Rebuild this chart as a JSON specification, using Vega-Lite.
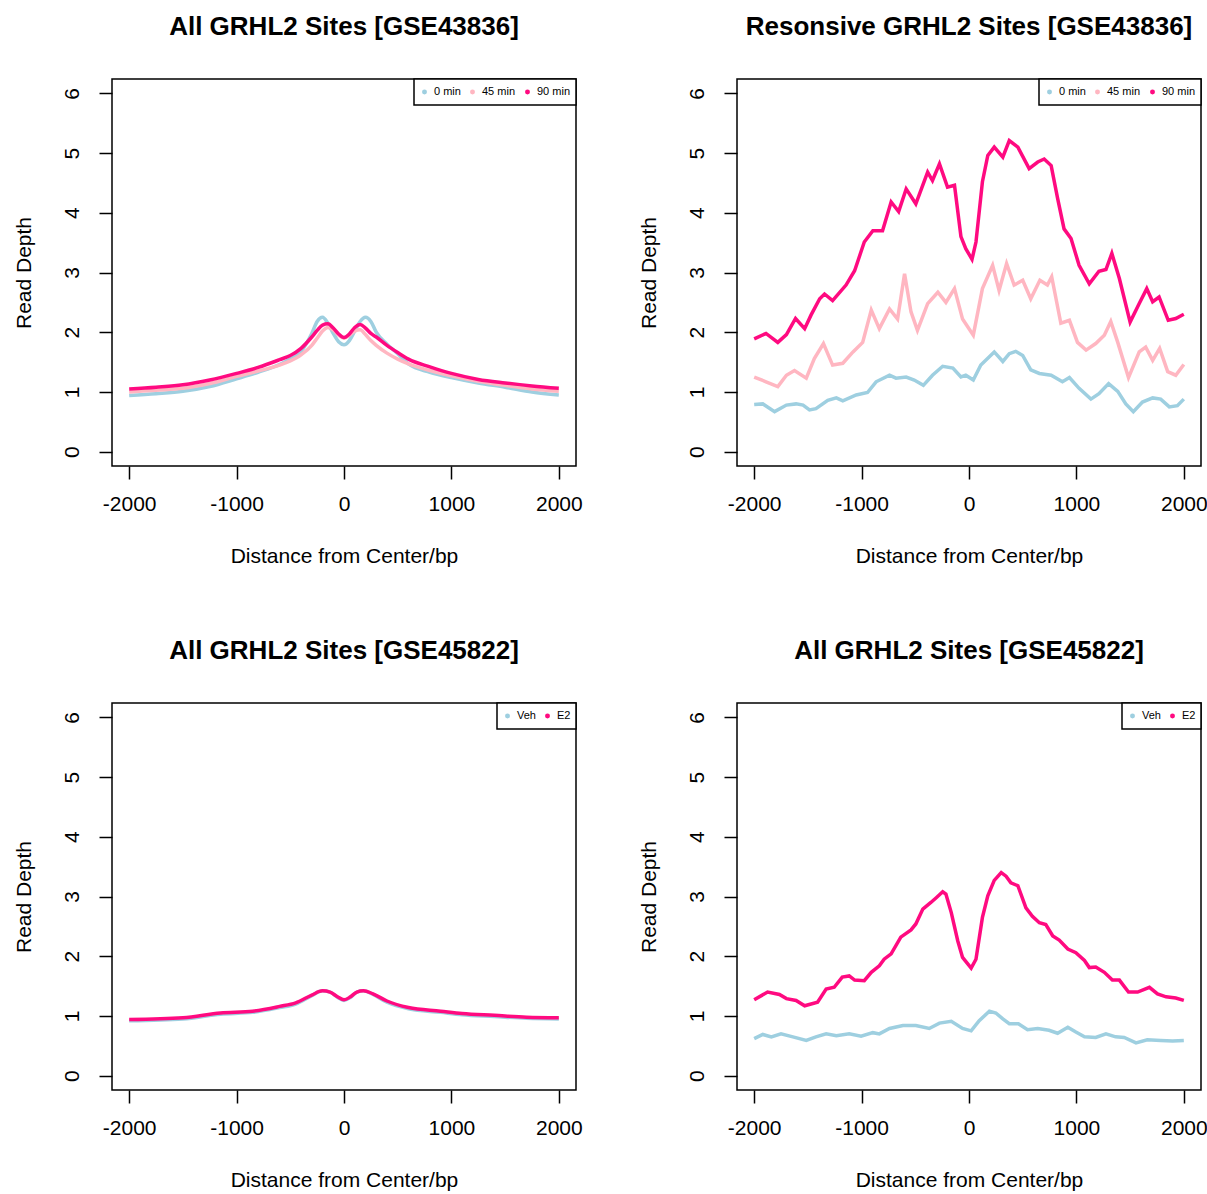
{
"$schema": "https://vega.github.io/schema/vega-lite/v6.json",
"background": "white",
"padding": {"left": 12, "top": 13, "right": 5, "bottom": 5},
"config": {
 "view": {"stroke": "black", "strokeWidth": 1.5},
 "axis": {"grid": false, "domain": false, "tickColor": "black", "tickSize": 13, "tickWidth": 1.5, "labelFont": "Liberation Sans", "labelFontSize": 21, "labelColor": "black", "titleFont": "Liberation Sans", "titleFontSize": 21, "titleFontWeight": "normal", "titleColor": "black", "labelOverlap": false},
 "axisX": {"labelPadding": 14, "titlePadding": 31, "labelAngle": 0, "labelExpr": "'' + datum.value"},
 "axisY": {"labelAngle": 270, "labelAlign": "center", "labelBaseline": "bottom", "labelPadding": 17, "titlePadding": 27},
 "legend": {"orient": "top-right", "offset": 0, "direction": "horizontal", "strokeColor": "black", "strokeWidth": 1.5, "fillColor": "white", "padding": 5, "clipHeight": 16, "symbolType": "circle", "symbolSize": 6, "symbolStrokeWidth": 2.5, "labelFontSize": 11, "labelFont": "Liberation Sans", "labelColor": "black", "columnPadding": 6, "labelOffset": 4, "cornerRadius": 0},
 "title": {"font": "Liberation Sans", "fontSize": 26, "fontWeight": "bold", "color": "black", "offset": 38, "frame": "group", "anchor": "middle"}
},
"datasets": {
 "p1": [
  {"x":-2000,"s":"0 min","y":0.94},{"x":-1750,"s":"0 min","y":0.97},{"x":-1500,"s":"0 min","y":1.01},{"x":-1250,"s":"0 min","y":1.09},{"x":-1000,"s":"0 min","y":1.22},{"x":-800,"s":"0 min","y":1.33},{"x":-600,"s":"0 min","y":1.46},{"x":-500,"s":"0 min","y":1.55},{"x":-400,"s":"0 min","y":1.68},{"x":-300,"s":"0 min","y":1.98},{"x":-250,"s":"0 min","y":2.18},{"x":-200,"s":"0 min","y":2.25},{"x":-150,"s":"0 min","y":2.15},{"x":-100,"s":"0 min","y":1.98},{"x":-50,"s":"0 min","y":1.84},{"x":0,"s":"0 min","y":1.79},{"x":50,"s":"0 min","y":1.86},{"x":100,"s":"0 min","y":2.02},{"x":150,"s":"0 min","y":2.18},{"x":200,"s":"0 min","y":2.25},{"x":250,"s":"0 min","y":2.18},{"x":300,"s":"0 min","y":2.0},{"x":400,"s":"0 min","y":1.8},{"x":500,"s":"0 min","y":1.64},{"x":600,"s":"0 min","y":1.47},{"x":800,"s":"0 min","y":1.33},{"x":1000,"s":"0 min","y":1.24},{"x":1250,"s":"0 min","y":1.15},{"x":1500,"s":"0 min","y":1.08},{"x":1750,"s":"0 min","y":1.0},{"x":2000,"s":"0 min","y":0.95},
  {"x":-2000,"s":"45 min","y":1.0},{"x":-1750,"s":"45 min","y":1.03},{"x":-1500,"s":"45 min","y":1.06},{"x":-1250,"s":"45 min","y":1.14},{"x":-1000,"s":"45 min","y":1.26},{"x":-800,"s":"45 min","y":1.35},{"x":-600,"s":"45 min","y":1.45},{"x":-500,"s":"45 min","y":1.52},{"x":-400,"s":"45 min","y":1.62},{"x":-300,"s":"45 min","y":1.78},{"x":-250,"s":"45 min","y":1.9},{"x":-200,"s":"45 min","y":2.02},{"x":-150,"s":"45 min","y":2.08},{"x":-100,"s":"45 min","y":2.04},{"x":-50,"s":"45 min","y":1.95},{"x":0,"s":"45 min","y":1.9},{"x":50,"s":"45 min","y":1.95},{"x":100,"s":"45 min","y":2.02},{"x":150,"s":"45 min","y":2.04},{"x":200,"s":"45 min","y":1.96},{"x":250,"s":"45 min","y":1.86},{"x":300,"s":"45 min","y":1.78},{"x":400,"s":"45 min","y":1.65},{"x":500,"s":"45 min","y":1.55},{"x":600,"s":"45 min","y":1.47},{"x":800,"s":"45 min","y":1.36},{"x":1000,"s":"45 min","y":1.27},{"x":1250,"s":"45 min","y":1.18},{"x":1500,"s":"45 min","y":1.11},{"x":1750,"s":"45 min","y":1.05},{"x":2000,"s":"45 min","y":1.01},
  {"x":-2000,"s":"90 min","y":1.05},{"x":-1750,"s":"90 min","y":1.08},{"x":-1500,"s":"90 min","y":1.12},{"x":-1250,"s":"90 min","y":1.2},{"x":-1000,"s":"90 min","y":1.31},{"x":-800,"s":"90 min","y":1.41},{"x":-600,"s":"90 min","y":1.54},{"x":-500,"s":"90 min","y":1.61},{"x":-400,"s":"90 min","y":1.73},{"x":-300,"s":"90 min","y":1.92},{"x":-250,"s":"90 min","y":2.03},{"x":-200,"s":"90 min","y":2.12},{"x":-150,"s":"90 min","y":2.14},{"x":-100,"s":"90 min","y":2.07},{"x":-50,"s":"90 min","y":1.97},{"x":0,"s":"90 min","y":1.91},{"x":50,"s":"90 min","y":1.97},{"x":100,"s":"90 min","y":2.08},{"x":150,"s":"90 min","y":2.13},{"x":200,"s":"90 min","y":2.07},{"x":250,"s":"90 min","y":1.98},{"x":300,"s":"90 min","y":1.92},{"x":400,"s":"90 min","y":1.78},{"x":500,"s":"90 min","y":1.66},{"x":600,"s":"90 min","y":1.55},{"x":800,"s":"90 min","y":1.42},{"x":1000,"s":"90 min","y":1.31},{"x":1250,"s":"90 min","y":1.21},{"x":1500,"s":"90 min","y":1.15},{"x":1750,"s":"90 min","y":1.1},{"x":2000,"s":"90 min","y":1.06}
 ],
 "p2": [
  {"x":-2000,"s":"0 min","y":0.79},{"x":-1920,"s":"0 min","y":0.8},{"x":-1810,"s":"0 min","y":0.67},{"x":-1700,"s":"0 min","y":0.78},{"x":-1610,"s":"0 min","y":0.8},{"x":-1545,"s":"0 min","y":0.78},{"x":-1485,"s":"0 min","y":0.7},{"x":-1425,"s":"0 min","y":0.72},{"x":-1315,"s":"0 min","y":0.86},{"x":-1235,"s":"0 min","y":0.9},{"x":-1175,"s":"0 min","y":0.85},{"x":-1050,"s":"0 min","y":0.95},{"x":-945,"s":"0 min","y":0.99},{"x":-865,"s":"0 min","y":1.17},{"x":-740,"s":"0 min","y":1.28},{"x":-680,"s":"0 min","y":1.23},{"x":-585,"s":"0 min","y":1.25},{"x":-510,"s":"0 min","y":1.2},{"x":-425,"s":"0 min","y":1.11},{"x":-340,"s":"0 min","y":1.28},{"x":-245,"s":"0 min","y":1.43},{"x":-150,"s":"0 min","y":1.4},{"x":-75,"s":"0 min","y":1.25},{"x":-30,"s":"0 min","y":1.28},{"x":40,"s":"0 min","y":1.2},{"x":110,"s":"0 min","y":1.45},{"x":235,"s":"0 min","y":1.67},{"x":315,"s":"0 min","y":1.51},{"x":375,"s":"0 min","y":1.64},{"x":435,"s":"0 min","y":1.68},{"x":500,"s":"0 min","y":1.61},{"x":575,"s":"0 min","y":1.37},{"x":655,"s":"0 min","y":1.31},{"x":765,"s":"0 min","y":1.28},{"x":870,"s":"0 min","y":1.17},{"x":935,"s":"0 min","y":1.24},{"x":1025,"s":"0 min","y":1.06},{"x":1135,"s":"0 min","y":0.88},{"x":1210,"s":"0 min","y":0.97},{"x":1300,"s":"0 min","y":1.14},{"x":1385,"s":"0 min","y":1.01},{"x":1460,"s":"0 min","y":0.8},{"x":1530,"s":"0 min","y":0.67},{"x":1615,"s":"0 min","y":0.83},{"x":1710,"s":"0 min","y":0.9},{"x":1785,"s":"0 min","y":0.88},{"x":1865,"s":"0 min","y":0.75},{"x":1940,"s":"0 min","y":0.77},{"x":2000,"s":"0 min","y":0.88},
  {"x":-2000,"s":"45 min","y":1.25},{"x":-1890,"s":"45 min","y":1.17},{"x":-1780,"s":"45 min","y":1.09},{"x":-1700,"s":"45 min","y":1.28},{"x":-1625,"s":"45 min","y":1.36},{"x":-1515,"s":"45 min","y":1.23},{"x":-1440,"s":"45 min","y":1.56},{"x":-1355,"s":"45 min","y":1.81},{"x":-1270,"s":"45 min","y":1.45},{"x":-1175,"s":"45 min","y":1.48},{"x":-1080,"s":"45 min","y":1.67},{"x":-990,"s":"45 min","y":1.83},{"x":-910,"s":"45 min","y":2.37},{"x":-835,"s":"45 min","y":2.06},{"x":-740,"s":"45 min","y":2.39},{"x":-665,"s":"45 min","y":2.22},{"x":-600,"s":"45 min","y":2.98},{"x":-540,"s":"45 min","y":2.34},{"x":-480,"s":"45 min","y":2.03},{"x":-385,"s":"45 min","y":2.48},{"x":-290,"s":"45 min","y":2.67},{"x":-215,"s":"45 min","y":2.5},{"x":-135,"s":"45 min","y":2.73},{"x":-60,"s":"45 min","y":2.22},{"x":40,"s":"45 min","y":1.95},{"x":125,"s":"45 min","y":2.73},{"x":220,"s":"45 min","y":3.12},{"x":280,"s":"45 min","y":2.7},{"x":350,"s":"45 min","y":3.15},{"x":420,"s":"45 min","y":2.79},{"x":500,"s":"45 min","y":2.87},{"x":575,"s":"45 min","y":2.56},{"x":660,"s":"45 min","y":2.87},{"x":730,"s":"45 min","y":2.79},{"x":770,"s":"45 min","y":2.93},{"x":855,"s":"45 min","y":2.15},{"x":935,"s":"45 min","y":2.2},{"x":1010,"s":"45 min","y":1.83},{"x":1090,"s":"45 min","y":1.7},{"x":1180,"s":"45 min","y":1.81},{"x":1260,"s":"45 min","y":1.95},{"x":1320,"s":"45 min","y":2.18},{"x":1385,"s":"45 min","y":1.83},{"x":1485,"s":"45 min","y":1.24},{"x":1585,"s":"45 min","y":1.67},{"x":1645,"s":"45 min","y":1.75},{"x":1710,"s":"45 min","y":1.53},{"x":1775,"s":"45 min","y":1.73},{"x":1850,"s":"45 min","y":1.34},{"x":1925,"s":"45 min","y":1.28},{"x":2000,"s":"45 min","y":1.46},
  {"x":-2000,"s":"90 min","y":1.89},{"x":-1890,"s":"90 min","y":1.98},{"x":-1780,"s":"90 min","y":1.83},{"x":-1700,"s":"90 min","y":1.96},{"x":-1615,"s":"90 min","y":2.23},{"x":-1530,"s":"90 min","y":2.06},{"x":-1470,"s":"90 min","y":2.29},{"x":-1390,"s":"90 min","y":2.56},{"x":-1345,"s":"90 min","y":2.64},{"x":-1270,"s":"90 min","y":2.53},{"x":-1145,"s":"90 min","y":2.79},{"x":-1065,"s":"90 min","y":3.03},{"x":-975,"s":"90 min","y":3.51},{"x":-895,"s":"90 min","y":3.7},{"x":-805,"s":"90 min","y":3.7},{"x":-725,"s":"90 min","y":4.18},{"x":-655,"s":"90 min","y":4.02},{"x":-585,"s":"90 min","y":4.4},{"x":-495,"s":"90 min","y":4.15},{"x":-385,"s":"90 min","y":4.68},{"x":-340,"s":"90 min","y":4.54},{"x":-275,"s":"90 min","y":4.82},{"x":-200,"s":"90 min","y":4.43},{"x":-135,"s":"90 min","y":4.46},{"x":-75,"s":"90 min","y":3.6},{"x":-30,"s":"90 min","y":3.4},{"x":28,"s":"90 min","y":3.22},{"x":65,"s":"90 min","y":3.51},{"x":125,"s":"90 min","y":4.52},{"x":175,"s":"90 min","y":4.96},{"x":235,"s":"90 min","y":5.1},{"x":315,"s":"90 min","y":4.93},{"x":375,"s":"90 min","y":5.21},{"x":455,"s":"90 min","y":5.1},{"x":560,"s":"90 min","y":4.74},{"x":640,"s":"90 min","y":4.85},{"x":700,"s":"90 min","y":4.9},{"x":765,"s":"90 min","y":4.79},{"x":825,"s":"90 min","y":4.24},{"x":885,"s":"90 min","y":3.73},{"x":950,"s":"90 min","y":3.57},{"x":1025,"s":"90 min","y":3.12},{"x":1120,"s":"90 min","y":2.81},{"x":1210,"s":"90 min","y":3.02},{"x":1275,"s":"90 min","y":3.05},{"x":1330,"s":"90 min","y":3.32},{"x":1400,"s":"90 min","y":2.9},{"x":1500,"s":"90 min","y":2.17},{"x":1585,"s":"90 min","y":2.48},{"x":1655,"s":"90 min","y":2.73},{"x":1710,"s":"90 min","y":2.51},{"x":1770,"s":"90 min","y":2.59},{"x":1855,"s":"90 min","y":2.2},{"x":1925,"s":"90 min","y":2.23},{"x":2000,"s":"90 min","y":2.3}
 ],
 "p3": [
  {"x":-2000,"s":"Veh","y":0.92},{"x":-1500,"s":"Veh","y":0.95},{"x":-1150,"s":"Veh","y":1.03},{"x":-850,"s":"Veh","y":1.06},{"x":-600,"s":"Veh","y":1.14},{"x":-450,"s":"Veh","y":1.2},{"x":-300,"s":"Veh","y":1.34},{"x":-200,"s":"Veh","y":1.42},{"x":-130,"s":"Veh","y":1.4},{"x":-60,"s":"Veh","y":1.31},{"x":0,"s":"Veh","y":1.26},{"x":60,"s":"Veh","y":1.31},{"x":120,"s":"Veh","y":1.4},{"x":180,"s":"Veh","y":1.42},{"x":270,"s":"Veh","y":1.36},{"x":400,"s":"Veh","y":1.23},{"x":600,"s":"Veh","y":1.12},{"x":900,"s":"Veh","y":1.06},{"x":1100,"s":"Veh","y":1.02},{"x":1400,"s":"Veh","y":0.99},{"x":1700,"s":"Veh","y":0.96},{"x":2000,"s":"Veh","y":0.95},
  {"x":-2000,"s":"E2","y":0.94},{"x":-1500,"s":"E2","y":0.97},{"x":-1150,"s":"E2","y":1.05},{"x":-850,"s":"E2","y":1.08},{"x":-600,"s":"E2","y":1.16},{"x":-450,"s":"E2","y":1.22},{"x":-300,"s":"E2","y":1.35},{"x":-200,"s":"E2","y":1.42},{"x":-130,"s":"E2","y":1.4},{"x":-60,"s":"E2","y":1.32},{"x":0,"s":"E2","y":1.27},{"x":60,"s":"E2","y":1.32},{"x":120,"s":"E2","y":1.4},{"x":180,"s":"E2","y":1.42},{"x":270,"s":"E2","y":1.37},{"x":400,"s":"E2","y":1.25},{"x":600,"s":"E2","y":1.14},{"x":900,"s":"E2","y":1.08},{"x":1100,"s":"E2","y":1.04},{"x":1400,"s":"E2","y":1.01},{"x":1700,"s":"E2","y":0.98},{"x":2000,"s":"E2","y":0.97}
 ],
 "p4": [
  {"x":-2000,"s":"Veh","y":0.62},{"x":-1920,"s":"Veh","y":0.69},{"x":-1840,"s":"Veh","y":0.65},{"x":-1750,"s":"Veh","y":0.7},{"x":-1640,"s":"Veh","y":0.65},{"x":-1515,"s":"Veh","y":0.59},{"x":-1425,"s":"Veh","y":0.65},{"x":-1330,"s":"Veh","y":0.7},{"x":-1235,"s":"Veh","y":0.67},{"x":-1115,"s":"Veh","y":0.7},{"x":-1005,"s":"Veh","y":0.66},{"x":-895,"s":"Veh","y":0.72},{"x":-835,"s":"Veh","y":0.7},{"x":-740,"s":"Veh","y":0.79},{"x":-615,"s":"Veh","y":0.84},{"x":-495,"s":"Veh","y":0.84},{"x":-370,"s":"Veh","y":0.79},{"x":-275,"s":"Veh","y":0.88},{"x":-165,"s":"Veh","y":0.91},{"x":-60,"s":"Veh","y":0.79},{"x":20,"s":"Veh","y":0.75},{"x":95,"s":"Veh","y":0.92},{"x":190,"s":"Veh","y":1.08},{"x":250,"s":"Veh","y":1.05},{"x":315,"s":"Veh","y":0.95},{"x":375,"s":"Veh","y":0.87},{"x":460,"s":"Veh","y":0.87},{"x":545,"s":"Veh","y":0.77},{"x":640,"s":"Veh","y":0.79},{"x":745,"s":"Veh","y":0.76},{"x":825,"s":"Veh","y":0.71},{"x":920,"s":"Veh","y":0.81},{"x":995,"s":"Veh","y":0.73},{"x":1075,"s":"Veh","y":0.65},{"x":1180,"s":"Veh","y":0.64},{"x":1275,"s":"Veh","y":0.7},{"x":1365,"s":"Veh","y":0.65},{"x":1445,"s":"Veh","y":0.64},{"x":1555,"s":"Veh","y":0.55},{"x":1660,"s":"Veh","y":0.6},{"x":1785,"s":"Veh","y":0.59},{"x":1895,"s":"Veh","y":0.58},{"x":2000,"s":"Veh","y":0.59},
  {"x":-2000,"s":"E2","y":1.27},{"x":-1875,"s":"E2","y":1.4},{"x":-1765,"s":"E2","y":1.36},{"x":-1700,"s":"E2","y":1.29},{"x":-1610,"s":"E2","y":1.26},{"x":-1530,"s":"E2","y":1.17},{"x":-1410,"s":"E2","y":1.23},{"x":-1330,"s":"E2","y":1.45},{"x":-1255,"s":"E2","y":1.48},{"x":-1180,"s":"E2","y":1.65},{"x":-1115,"s":"E2","y":1.67},{"x":-1065,"s":"E2","y":1.6},{"x":-975,"s":"E2","y":1.59},{"x":-910,"s":"E2","y":1.73},{"x":-835,"s":"E2","y":1.84},{"x":-790,"s":"E2","y":1.95},{"x":-725,"s":"E2","y":2.04},{"x":-635,"s":"E2","y":2.32},{"x":-540,"s":"E2","y":2.44},{"x":-495,"s":"E2","y":2.54},{"x":-430,"s":"E2","y":2.79},{"x":-355,"s":"E2","y":2.9},{"x":-305,"s":"E2","y":2.98},{"x":-245,"s":"E2","y":3.08},{"x":-215,"s":"E2","y":3.04},{"x":-165,"s":"E2","y":2.73},{"x":-105,"s":"E2","y":2.26},{"x":-60,"s":"E2","y":1.98},{"x":20,"s":"E2","y":1.8},{"x":65,"s":"E2","y":1.95},{"x":125,"s":"E2","y":2.65},{"x":175,"s":"E2","y":3.01},{"x":235,"s":"E2","y":3.27},{"x":300,"s":"E2","y":3.4},{"x":345,"s":"E2","y":3.34},{"x":390,"s":"E2","y":3.23},{"x":455,"s":"E2","y":3.18},{"x":530,"s":"E2","y":2.81},{"x":590,"s":"E2","y":2.67},{"x":655,"s":"E2","y":2.56},{"x":715,"s":"E2","y":2.53},{"x":780,"s":"E2","y":2.34},{"x":840,"s":"E2","y":2.27},{"x":920,"s":"E2","y":2.12},{"x":995,"s":"E2","y":2.06},{"x":1075,"s":"E2","y":1.93},{"x":1120,"s":"E2","y":1.81},{"x":1180,"s":"E2","y":1.82},{"x":1260,"s":"E2","y":1.73},{"x":1335,"s":"E2","y":1.6},{"x":1400,"s":"E2","y":1.6},{"x":1485,"s":"E2","y":1.4},{"x":1570,"s":"E2","y":1.4},{"x":1680,"s":"E2","y":1.48},{"x":1755,"s":"E2","y":1.37},{"x":1835,"s":"E2","y":1.32},{"x":1925,"s":"E2","y":1.3},{"x":2000,"s":"E2","y":1.26}
 ]
},
"columns": 2,
"spacing": {"row": 237, "column": 161},
"bounds": "flush",
"resolve": {"scale": {"color": "independent"}, "legend": {"color": "independent"}},
"concat": [
 {
  "data": {"name": "p1"}, "width": 464, "height": 387,
  "title": {"text": "All GRHL2 Sites [GSE43836]"},
  "mark": {"type": "line", "strokeWidth": 3.5, "interpolate": "monotone"},
  "encoding": {
   "x": {"field": "x", "type": "quantitative", "scale": {"domain": [-2160, 2160], "nice": false, "zero": false}, "axis": {"values": [-2000, -1000, 0, 1000, 2000], "title": "Distance from Center/bp"}},
   "y": {"field": "y", "type": "quantitative", "scale": {"domain": [-0.24, 6.24], "nice": false, "zero": false}, "axis": {"values": [0, 1, 2, 3, 4, 5, 6], "title": "Read Depth"}},
   "color": {"field": "s", "type": "nominal", "scale": {"domain": ["0 min", "45 min", "90 min"], "range": ["#9ECFE0", "#FFB6C1", "#FF0A80"]}, "legend": {"title": null}}
  }
 },
 {
  "data": {"name": "p2"}, "width": 464, "height": 387,
  "title": {"text": "Resonsive GRHL2 Sites [GSE43836]"},
  "mark": {"type": "line", "strokeWidth": 3.5},
  "encoding": {
   "x": {"field": "x", "type": "quantitative", "scale": {"domain": [-2160, 2160], "nice": false, "zero": false}, "axis": {"values": [-2000, -1000, 0, 1000, 2000], "title": "Distance from Center/bp"}},
   "y": {"field": "y", "type": "quantitative", "scale": {"domain": [-0.24, 6.24], "nice": false, "zero": false}, "axis": {"values": [0, 1, 2, 3, 4, 5, 6], "title": "Read Depth"}},
   "color": {"field": "s", "type": "nominal", "scale": {"domain": ["0 min", "45 min", "90 min"], "range": ["#9ECFE0", "#FFB6C1", "#FF0A80"]}, "legend": {"title": null}}
  }
 },
 {
  "data": {"name": "p3"}, "width": 464, "height": 387,
  "title": {"text": "All GRHL2 Sites [GSE45822]"},
  "mark": {"type": "line", "strokeWidth": 3.5, "interpolate": "monotone"},
  "encoding": {
   "x": {"field": "x", "type": "quantitative", "scale": {"domain": [-2160, 2160], "nice": false, "zero": false}, "axis": {"values": [-2000, -1000, 0, 1000, 2000], "title": "Distance from Center/bp"}},
   "y": {"field": "y", "type": "quantitative", "scale": {"domain": [-0.24, 6.24], "nice": false, "zero": false}, "axis": {"values": [0, 1, 2, 3, 4, 5, 6], "title": "Read Depth"}},
   "color": {"field": "s", "type": "nominal", "scale": {"domain": ["Veh", "E2"], "range": ["#9ECFE0", "#FF0A80"]}, "legend": {"title": null}}
  }
 },
 {
  "data": {"name": "p4"}, "width": 464, "height": 387,
  "title": {"text": "All GRHL2 Sites [GSE45822]"},
  "mark": {"type": "line", "strokeWidth": 3.5},
  "encoding": {
   "x": {"field": "x", "type": "quantitative", "scale": {"domain": [-2160, 2160], "nice": false, "zero": false}, "axis": {"values": [-2000, -1000, 0, 1000, 2000], "title": "Distance from Center/bp"}},
   "y": {"field": "y", "type": "quantitative", "scale": {"domain": [-0.24, 6.24], "nice": false, "zero": false}, "axis": {"values": [0, 1, 2, 3, 4, 5, 6], "title": "Read Depth"}},
   "color": {"field": "s", "type": "nominal", "scale": {"domain": ["Veh", "E2"], "range": ["#9ECFE0", "#FF0A80"]}, "legend": {"title": null}}
  }
 }
]
}
